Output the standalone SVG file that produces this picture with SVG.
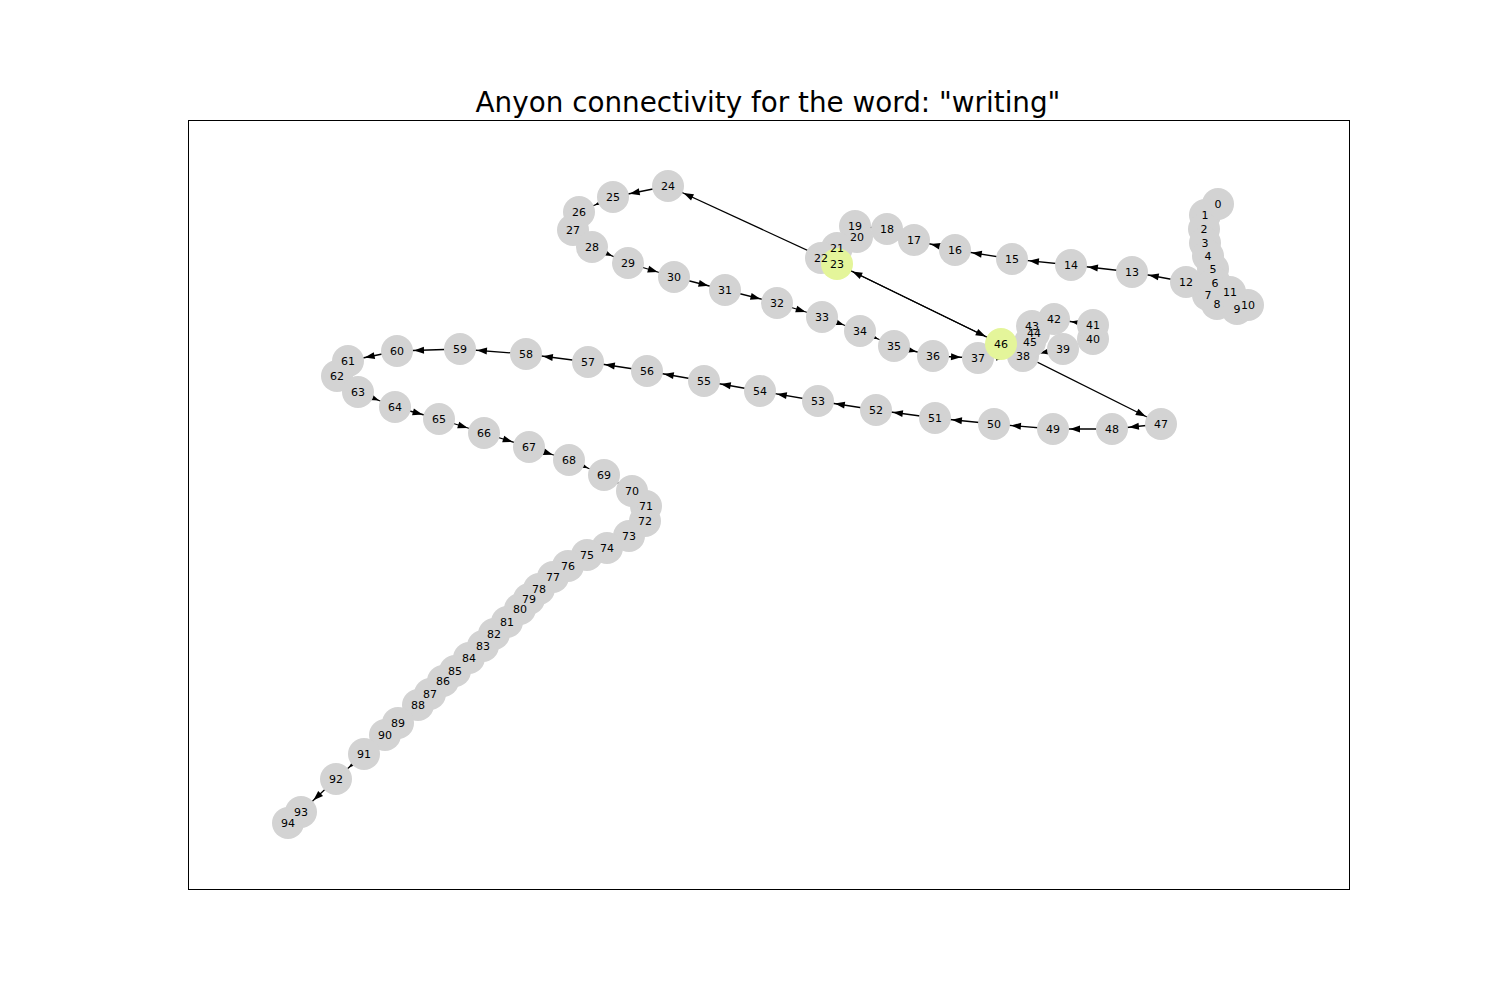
<svg xmlns="http://www.w3.org/2000/svg" width="1500" height="1000" viewBox="0 0 1500 1000">
<defs>
<marker id="arr" markerUnits="userSpaceOnUse" markerWidth="40" markerHeight="10" refX="27" refY="3.5" orient="auto" overflow="visible">
<path d="M0,0 L10,3.5 L0,7 z" fill="#000"/>
</marker>
</defs>
<style>
.n{fill:#d3d3d3}
.hl{fill:#e4f59a}
.lb{font-family:"DejaVu Sans","Liberation Sans",sans-serif;font-size:11px;text-anchor:middle;fill:#000}
.e{stroke:#000;stroke-width:1.3;fill:none;marker-end:url(#arr)}
.title{font-family:"DejaVu Sans","Liberation Sans",sans-serif;font-size:27.8px;text-anchor:middle;fill:#000}
</style>
<rect x="0" y="0" width="1500" height="1000" fill="#fff"/>
<rect x="188.5" y="120.5" width="1161" height="769" fill="none" stroke="#000" stroke-width="1"/>
<text class="title" x="768" y="112">Anyon connectivity for the word: "writing"</text>
<g id="edges">
<line class="e" x1="1230" y1="292" x2="1186" y2="282"/>
<line class="e" x1="1186" y1="282" x2="1132" y2="272"/>
<line class="e" x1="1132" y1="272" x2="1071" y2="265"/>
<line class="e" x1="1071" y1="265" x2="1012" y2="259"/>
<line class="e" x1="1012" y1="259" x2="955" y2="250"/>
<line class="e" x1="955" y1="250" x2="914" y2="240"/>
<line class="e" x1="887" y1="229" x2="855" y2="226"/>
<line class="e" x1="837" y1="264" x2="668" y2="186"/>
<line class="e" x1="668" y1="186" x2="613" y2="197"/>
<line class="e" x1="613" y1="197" x2="579" y2="212"/>
<line class="e" x1="592" y1="247" x2="628" y2="263"/>
<line class="e" x1="628" y1="263" x2="674" y2="277"/>
<line class="e" x1="674" y1="277" x2="725" y2="290"/>
<line class="e" x1="725" y1="290" x2="777" y2="303"/>
<line class="e" x1="777" y1="303" x2="822" y2="317"/>
<line class="e" x1="822" y1="317" x2="860" y2="331"/>
<line class="e" x1="860" y1="331" x2="894" y2="346"/>
<line class="e" x1="894" y1="346" x2="933" y2="356"/>
<line class="e" x1="933" y1="356" x2="978" y2="358"/>
<line class="e" x1="978" y1="358" x2="1023" y2="356"/>
<line class="e" x1="1063" y1="349" x2="1023" y2="356"/>
<line class="e" x1="1093" y1="325" x2="1054" y2="319"/>
<line class="e" x1="837" y1="264" x2="1001" y2="344"/>
<line class="e" x1="1001" y1="344" x2="837" y2="264"/>
<line class="e" x1="1001" y1="344" x2="1161" y2="424"/>
<line class="e" x1="1161" y1="424" x2="1112" y2="429"/>
<line class="e" x1="1112" y1="429" x2="1053" y2="429"/>
<line class="e" x1="1053" y1="429" x2="994" y2="424"/>
<line class="e" x1="994" y1="424" x2="935" y2="418"/>
<line class="e" x1="935" y1="418" x2="876" y2="410"/>
<line class="e" x1="876" y1="410" x2="818" y2="401"/>
<line class="e" x1="818" y1="401" x2="760" y2="391"/>
<line class="e" x1="760" y1="391" x2="704" y2="381"/>
<line class="e" x1="704" y1="381" x2="647" y2="371"/>
<line class="e" x1="647" y1="371" x2="588" y2="362"/>
<line class="e" x1="588" y1="362" x2="526" y2="354"/>
<line class="e" x1="526" y1="354" x2="460" y2="349"/>
<line class="e" x1="460" y1="349" x2="397" y2="351"/>
<line class="e" x1="397" y1="351" x2="348" y2="361"/>
<line class="e" x1="358" y1="392" x2="395" y2="407"/>
<line class="e" x1="395" y1="407" x2="439" y2="419"/>
<line class="e" x1="439" y1="419" x2="484" y2="433"/>
<line class="e" x1="484" y1="433" x2="529" y2="447"/>
<line class="e" x1="529" y1="447" x2="569" y2="460"/>
<line class="e" x1="569" y1="460" x2="604" y2="475"/>
<line class="e" x1="604" y1="475" x2="632" y2="491"/>
<line class="e" x1="364" y1="754" x2="336" y2="779"/>
<line class="e" x1="336" y1="779" x2="301" y2="812"/>
</g>
<g id="nodes">
<g id="n0"><circle class="n" cx="1218" cy="204" r="16"/></g>
<g id="n1"><circle class="n" cx="1205" cy="215" r="16"/></g>
<g id="n2"><circle class="n" cx="1204" cy="229" r="16"/></g>
<g id="n3"><circle class="n" cx="1205" cy="243" r="16"/></g>
<g id="n4"><circle class="n" cx="1208" cy="256" r="16"/></g>
<g id="n5"><circle class="n" cx="1213" cy="269" r="16"/></g>
<g id="n6"><circle class="n" cx="1215" cy="283" r="16"/></g>
<g id="n7"><circle class="n" cx="1208" cy="295" r="16"/></g>
<g id="n8"><circle class="n" cx="1217" cy="304" r="16"/></g>
<g id="n9"><circle class="n" cx="1237" cy="309" r="16"/></g>
<g id="n10"><circle class="n" cx="1248" cy="305" r="16"/></g>
<g id="n11"><circle class="n" cx="1230" cy="292" r="16"/></g>
<g id="n12"><circle class="n" cx="1186" cy="282" r="16"/></g>
<g id="n13"><circle class="n" cx="1132" cy="272" r="16"/></g>
<g id="n14"><circle class="n" cx="1071" cy="265" r="16"/></g>
<g id="n15"><circle class="n" cx="1012" cy="259" r="16"/></g>
<g id="n16"><circle class="n" cx="955" cy="250" r="16"/></g>
<g id="n17"><circle class="n" cx="914" cy="240" r="16"/></g>
<g id="n18"><circle class="n" cx="887" cy="229" r="16"/></g>
<g id="n19"><circle class="n" cx="855" cy="226" r="16"/></g>
<g id="n20"><circle class="n" cx="857" cy="237" r="16"/></g>
<g id="n21"><circle class="n" cx="837" cy="248" r="16"/></g>
<g id="n22"><circle class="n" cx="821" cy="258" r="16"/></g>
<g id="n23"><circle class="hl" cx="837" cy="264" r="16"/></g>
<g id="n24"><circle class="n" cx="668" cy="186" r="16"/></g>
<g id="n25"><circle class="n" cx="613" cy="197" r="16"/></g>
<g id="n26"><circle class="n" cx="579" cy="212" r="16"/></g>
<g id="n27"><circle class="n" cx="573" cy="230" r="16"/></g>
<g id="n28"><circle class="n" cx="592" cy="247" r="16"/></g>
<g id="n29"><circle class="n" cx="628" cy="263" r="16"/></g>
<g id="n30"><circle class="n" cx="674" cy="277" r="16"/></g>
<g id="n31"><circle class="n" cx="725" cy="290" r="16"/></g>
<g id="n32"><circle class="n" cx="777" cy="303" r="16"/></g>
<g id="n33"><circle class="n" cx="822" cy="317" r="16"/></g>
<g id="n34"><circle class="n" cx="860" cy="331" r="16"/></g>
<g id="n35"><circle class="n" cx="894" cy="346" r="16"/></g>
<g id="n36"><circle class="n" cx="933" cy="356" r="16"/></g>
<g id="n37"><circle class="n" cx="978" cy="358" r="16"/></g>
<g id="n38"><circle class="n" cx="1023" cy="356" r="16"/></g>
<g id="n39"><circle class="n" cx="1063" cy="349" r="16"/></g>
<g id="n40"><circle class="n" cx="1093" cy="339" r="16"/></g>
<g id="n41"><circle class="n" cx="1093" cy="325" r="16"/></g>
<g id="n42"><circle class="n" cx="1054" cy="319" r="16"/></g>
<g id="n43"><circle class="n" cx="1032" cy="326" r="16"/></g>
<g id="n44"><circle class="n" cx="1034" cy="333" r="16"/></g>
<g id="n45"><circle class="n" cx="1030" cy="342" r="16"/></g>
<g id="n46"><circle class="hl" cx="1001" cy="344" r="16"/></g>
<g id="n47"><circle class="n" cx="1161" cy="424" r="16"/></g>
<g id="n48"><circle class="n" cx="1112" cy="429" r="16"/></g>
<g id="n49"><circle class="n" cx="1053" cy="429" r="16"/></g>
<g id="n50"><circle class="n" cx="994" cy="424" r="16"/></g>
<g id="n51"><circle class="n" cx="935" cy="418" r="16"/></g>
<g id="n52"><circle class="n" cx="876" cy="410" r="16"/></g>
<g id="n53"><circle class="n" cx="818" cy="401" r="16"/></g>
<g id="n54"><circle class="n" cx="760" cy="391" r="16"/></g>
<g id="n55"><circle class="n" cx="704" cy="381" r="16"/></g>
<g id="n56"><circle class="n" cx="647" cy="371" r="16"/></g>
<g id="n57"><circle class="n" cx="588" cy="362" r="16"/></g>
<g id="n58"><circle class="n" cx="526" cy="354" r="16"/></g>
<g id="n59"><circle class="n" cx="460" cy="349" r="16"/></g>
<g id="n60"><circle class="n" cx="397" cy="351" r="16"/></g>
<g id="n61"><circle class="n" cx="348" cy="361" r="16"/></g>
<g id="n62"><circle class="n" cx="337" cy="376" r="16"/></g>
<g id="n63"><circle class="n" cx="358" cy="392" r="16"/></g>
<g id="n64"><circle class="n" cx="395" cy="407" r="16"/></g>
<g id="n65"><circle class="n" cx="439" cy="419" r="16"/></g>
<g id="n66"><circle class="n" cx="484" cy="433" r="16"/></g>
<g id="n67"><circle class="n" cx="529" cy="447" r="16"/></g>
<g id="n68"><circle class="n" cx="569" cy="460" r="16"/></g>
<g id="n69"><circle class="n" cx="604" cy="475" r="16"/></g>
<g id="n70"><circle class="n" cx="632" cy="491" r="16"/></g>
<g id="n71"><circle class="n" cx="646" cy="506" r="16"/></g>
<g id="n72"><circle class="n" cx="645" cy="521" r="16"/></g>
<g id="n73"><circle class="n" cx="629" cy="536" r="16"/></g>
<g id="n74"><circle class="n" cx="607" cy="548" r="16"/></g>
<g id="n75"><circle class="n" cx="587" cy="555" r="16"/></g>
<g id="n76"><circle class="n" cx="568" cy="566" r="16"/></g>
<g id="n77"><circle class="n" cx="553" cy="577" r="16"/></g>
<g id="n78"><circle class="n" cx="539" cy="589" r="16"/></g>
<g id="n79"><circle class="n" cx="529" cy="599" r="16"/></g>
<g id="n80"><circle class="n" cx="520" cy="609" r="16"/></g>
<g id="n81"><circle class="n" cx="507" cy="622" r="16"/></g>
<g id="n82"><circle class="n" cx="494" cy="634" r="16"/></g>
<g id="n83"><circle class="n" cx="483" cy="646" r="16"/></g>
<g id="n84"><circle class="n" cx="469" cy="658" r="16"/></g>
<g id="n85"><circle class="n" cx="455" cy="671" r="16"/></g>
<g id="n86"><circle class="n" cx="443" cy="681" r="16"/></g>
<g id="n87"><circle class="n" cx="430" cy="694" r="16"/></g>
<g id="n88"><circle class="n" cx="418" cy="705" r="16"/></g>
<g id="n89"><circle class="n" cx="398" cy="723" r="16"/></g>
<g id="n90"><circle class="n" cx="385" cy="735" r="16"/></g>
<g id="n91"><circle class="n" cx="364" cy="754" r="16"/></g>
<g id="n92"><circle class="n" cx="336" cy="779" r="16"/></g>
<g id="n93"><circle class="n" cx="301" cy="812" r="16"/></g>
<g id="n94"><circle class="n" cx="288" cy="823" r="16"/></g>
</g>
<g id="labels">
<text class="lb" x="1218" y="208">0</text>
<text class="lb" x="1205" y="219">1</text>
<text class="lb" x="1204" y="233">2</text>
<text class="lb" x="1205" y="247">3</text>
<text class="lb" x="1208" y="260">4</text>
<text class="lb" x="1213" y="273">5</text>
<text class="lb" x="1215" y="287">6</text>
<text class="lb" x="1208" y="299">7</text>
<text class="lb" x="1217" y="308">8</text>
<text class="lb" x="1237" y="313">9</text>
<text class="lb" x="1248" y="309">10</text>
<text class="lb" x="1230" y="296">11</text>
<text class="lb" x="1186" y="286">12</text>
<text class="lb" x="1132" y="276">13</text>
<text class="lb" x="1071" y="269">14</text>
<text class="lb" x="1012" y="263">15</text>
<text class="lb" x="955" y="254">16</text>
<text class="lb" x="914" y="244">17</text>
<text class="lb" x="887" y="233">18</text>
<text class="lb" x="855" y="230">19</text>
<text class="lb" x="857" y="241">20</text>
<text class="lb" x="837" y="252">21</text>
<text class="lb" x="821" y="262">22</text>
<text class="lb" x="837" y="268">23</text>
<text class="lb" x="668" y="190">24</text>
<text class="lb" x="613" y="201">25</text>
<text class="lb" x="579" y="216">26</text>
<text class="lb" x="573" y="234">27</text>
<text class="lb" x="592" y="251">28</text>
<text class="lb" x="628" y="267">29</text>
<text class="lb" x="674" y="281">30</text>
<text class="lb" x="725" y="294">31</text>
<text class="lb" x="777" y="307">32</text>
<text class="lb" x="822" y="321">33</text>
<text class="lb" x="860" y="335">34</text>
<text class="lb" x="894" y="350">35</text>
<text class="lb" x="933" y="360">36</text>
<text class="lb" x="978" y="362">37</text>
<text class="lb" x="1023" y="360">38</text>
<text class="lb" x="1063" y="353">39</text>
<text class="lb" x="1093" y="343">40</text>
<text class="lb" x="1093" y="329">41</text>
<text class="lb" x="1054" y="323">42</text>
<text class="lb" x="1032" y="330">43</text>
<text class="lb" x="1034" y="337">44</text>
<text class="lb" x="1030" y="346">45</text>
<text class="lb" x="1001" y="348">46</text>
<text class="lb" x="1161" y="428">47</text>
<text class="lb" x="1112" y="433">48</text>
<text class="lb" x="1053" y="433">49</text>
<text class="lb" x="994" y="428">50</text>
<text class="lb" x="935" y="422">51</text>
<text class="lb" x="876" y="414">52</text>
<text class="lb" x="818" y="405">53</text>
<text class="lb" x="760" y="395">54</text>
<text class="lb" x="704" y="385">55</text>
<text class="lb" x="647" y="375">56</text>
<text class="lb" x="588" y="366">57</text>
<text class="lb" x="526" y="358">58</text>
<text class="lb" x="460" y="353">59</text>
<text class="lb" x="397" y="355">60</text>
<text class="lb" x="348" y="365">61</text>
<text class="lb" x="337" y="380">62</text>
<text class="lb" x="358" y="396">63</text>
<text class="lb" x="395" y="411">64</text>
<text class="lb" x="439" y="423">65</text>
<text class="lb" x="484" y="437">66</text>
<text class="lb" x="529" y="451">67</text>
<text class="lb" x="569" y="464">68</text>
<text class="lb" x="604" y="479">69</text>
<text class="lb" x="632" y="495">70</text>
<text class="lb" x="646" y="510">71</text>
<text class="lb" x="645" y="525">72</text>
<text class="lb" x="629" y="540">73</text>
<text class="lb" x="607" y="552">74</text>
<text class="lb" x="587" y="559">75</text>
<text class="lb" x="568" y="570">76</text>
<text class="lb" x="553" y="581">77</text>
<text class="lb" x="539" y="593">78</text>
<text class="lb" x="529" y="603">79</text>
<text class="lb" x="520" y="613">80</text>
<text class="lb" x="507" y="626">81</text>
<text class="lb" x="494" y="638">82</text>
<text class="lb" x="483" y="650">83</text>
<text class="lb" x="469" y="662">84</text>
<text class="lb" x="455" y="675">85</text>
<text class="lb" x="443" y="685">86</text>
<text class="lb" x="430" y="698">87</text>
<text class="lb" x="418" y="709">88</text>
<text class="lb" x="398" y="727">89</text>
<text class="lb" x="385" y="739">90</text>
<text class="lb" x="364" y="758">91</text>
<text class="lb" x="336" y="783">92</text>
<text class="lb" x="301" y="816">93</text>
<text class="lb" x="288" y="827">94</text>
</g>
</svg>
